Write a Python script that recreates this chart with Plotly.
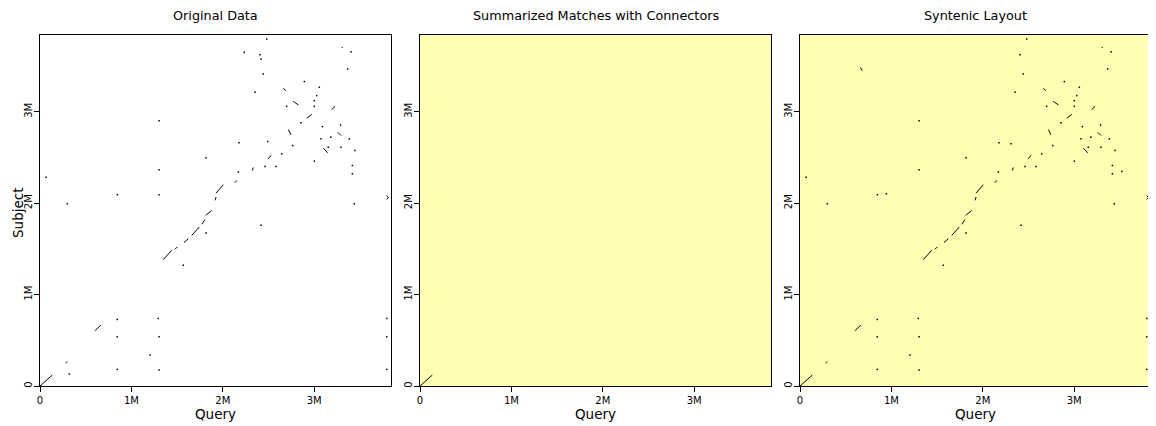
import plotly.graph_objects as go

M = 1e6

# ---- data (Mbp) ----
# alignment segments shared by "Original Data" and "Syntenic Layout"
seg_q1 = [3.301, 2.662, 2.771, 3.191, 2.918, 3.282, 2.717, 3.257, 3.100, 2.498, 2.323, 2.133,
          1.926, 1.915, 3.793, 3.811, 1.349, 1.477, 1.575, 1.660, 1.769, 1.813, 0.602, 0.284, 0.000]
seg_s1 = [3.710, 3.257, 3.115, 3.024, 2.929, 2.868, 2.806, 2.776, 2.601, 2.486, 2.358, 2.224,
          2.110, 2.031, 2.085, 2.063, 1.383, 1.496, 1.569, 1.648, 1.769, 1.867, 0.604, 0.248, 0.000]
seg_q2 = [3.312, 2.691, 2.826, 3.228, 2.973, 3.293, 2.746, 3.293, 3.148, 2.527, 2.334, 2.152,
          2.005, 1.926, 3.811, 3.793, 1.441, 1.502, 1.623, 1.743, 1.805, 1.879, 0.664, 0.299, 0.135]
seg_s2 = [3.697, 3.231, 3.075, 3.060, 2.973, 2.842, 2.748, 2.740, 2.551, 2.522, 2.391, 2.249,
          2.202, 2.067, 2.063, 2.041, 1.485, 1.521, 1.612, 1.739, 1.820, 1.921, 0.666, 0.265, 0.120]

# summarized matches panel
sum_q1 = [0.000]
sum_s1 = [0.000]
sum_q2 = [0.135]
sum_s2 = [0.120]

# extra segment in syntenic layout
syn_q1 = [0.660]
syn_s1 = [3.486]
syn_q2 = [0.682]
syn_s2 = [3.450]

# short matches (single dots) in original data
orig_dot_q = [1.302, 1.816, 1.302, 0.066, 0.846, 1.302, 0.299, 2.480, 2.235, 2.407, 2.418, 3.403,
              3.366, 2.443, 2.352, 2.892, 3.056, 3.027, 3.001, 2.699, 3.001, 2.856, 3.089, 3.181,
              3.074, 3.384, 2.177, 2.491, 2.765, 3.154, 3.293, 3.446, 2.644, 3.001, 2.462, 2.582,
              2.170, 3.417, 3.417, 3.438, 1.816, 1.568, 2.418, 0.846, 1.294, 0.846, 1.302, 1.204,
              0.321, 0.846, 1.302, 3.793, 3.793, 3.793]
orig_dot_s = [2.901, 2.497, 2.366, 2.285, 2.093, 2.093, 1.995, 3.796, 3.650, 3.624, 3.577, 3.657,
              3.468, 3.414, 3.213, 3.330, 3.268, 3.177, 3.122, 3.060, 3.060, 2.879, 2.838, 2.722,
              2.704, 2.704, 2.660, 2.675, 2.631, 2.612, 2.612, 2.576, 2.540, 2.460, 2.402, 2.402,
              2.340, 2.322, 2.413, 1.995, 1.674, 1.321, 1.758, 0.728, 0.739, 0.538, 0.538, 0.338,
              0.131, 0.182, 0.175, 0.739, 0.538, 0.182]

# short matches (single dots) in syntenic layout
syn_dot_q = [1.302, 1.816, 1.302, 0.066, 0.846, 0.945, 0.299, 2.480, 2.407, 3.403,
             3.366, 2.443, 2.352, 2.892, 3.056, 3.027, 3.001, 2.699, 3.001, 2.856, 3.089, 3.181,
             3.074, 3.384, 2.177, 2.309, 2.765, 3.154, 3.293, 3.446, 2.644, 3.001, 2.462, 2.582,
             2.170, 3.417, 3.417, 3.520, 3.438, 1.816, 1.568, 2.418, 0.846, 1.294, 0.846, 1.302,
             1.204, 0.846, 1.302, 3.793, 3.793, 3.793]
syn_dot_s = [2.901, 2.497, 2.366, 2.285, 2.093, 2.103, 1.995, 3.796, 3.624, 3.657,
             3.468, 3.414, 3.213, 3.330, 3.268, 3.177, 3.122, 3.060, 3.060, 2.879, 2.838, 2.722,
             2.704, 2.704, 2.660, 2.650, 2.631, 2.612, 2.612, 2.576, 2.540, 2.460, 2.402, 2.402,
             2.340, 2.322, 2.413, 2.347, 1.995, 1.674, 1.321, 1.758, 0.728, 0.739, 0.538, 0.538,
             0.338, 0.182, 0.175, 0.739, 0.538, 0.182]

tick_vals = [0, 1, 2, 3]
tick_text = ["0", "1M", "2M", "3M"]
axis_max = 3.84
panel_titles = ["Original Data", "Summarized Matches with Connectors", "Syntenic Layout"]
x_title = "Query"
y_title = "Subject"
yellow = "#FFFFB4"


def seg_xy(q1, s1, q2, s2):
    xs, ys = [], []
    for a, b, c, d in zip(q1, s1, q2, s2):
        xs += [a * M, c * M, None]
        ys += [b * M, d * M, None]
    return xs, ys


fig = go.Figure()

panels = [
    (seg_q1, seg_s1, seg_q2, seg_s2, orig_dot_q, orig_dot_s),
    (sum_q1, sum_s1, sum_q2, sum_s2, [], []),
    (seg_q1 + syn_q1, seg_s1 + syn_s1, seg_q2 + syn_q2, seg_s2 + syn_s2, syn_dot_q, syn_dot_s),
]

for i, (q1, s1, q2, s2, dq, ds) in enumerate(panels):
    xa = "x" if i == 0 else f"x{i+1}"
    ya = "y" if i == 0 else f"y{i+1}"
    xs, ys = seg_xy(q1, s1, q2, s2)
    fig.add_trace(go.Scatter(x=xs, y=ys, mode="lines", line=dict(color="black", width=1),
                             xaxis=xa, yaxis=ya, showlegend=False, hoverinfo="skip"))
    if dq:
        fig.add_trace(go.Scatter(x=[v * M for v in dq], y=[v * M for v in ds], mode="markers",
                                 marker=dict(color="black", size=1.5, symbol="square", line=dict(width=0)),
                                 xaxis=xa, yaxis=ya, showlegend=False, hoverinfo="skip"))

# the page body has an 8px margin, so the figure is 8px smaller and shifted
W, H = 1148, 418
ml, mt, mb = 32, 27, 40
lefts = [32, 412, 792]
size = 351
mr = W - (lefts[-1] + size)
pw = W - ml - mr
ph = H - mt - mb

axis_common = dict(range=[0, axis_max * M], tickvals=[v * M for v in tick_vals], ticktext=tick_text,
                   showline=True, mirror=True, linecolor="black", linewidth=1,
                   ticks="outside", ticklen=5, tickcolor="black", tickwidth=1,
                   showgrid=False, zeroline=False, fixedrange=True, automargin=False,
                   tickfont=dict(family="DejaVu Sans", size=10, color="black"))

layout = dict(width=W, height=H, margin=dict(l=ml, r=mr, t=mt, b=mb, autoexpand=False),
              paper_bgcolor="white", plot_bgcolor="white",
              font=dict(family="DejaVu Sans", color="black"), showlegend=False)

annotations = []
shapes = []
for i, left in enumerate(lefts):
    d0 = (left - ml) / pw
    d1 = min((left + size - ml) / pw, 1)
    xk = "xaxis" if i == 0 else f"xaxis{i+1}"
    yk = "yaxis" if i == 0 else f"yaxis{i+1}"
    yname = "y" if i == 0 else f"y{i+1}"
    xname = "x" if i == 0 else f"x{i+1}"
    layout[xk] = dict(axis_common, domain=[d0, d1], anchor=yname,
                      title=dict(text=x_title, font=dict(size=13.5, family="DejaVu Sans"), standoff=2))
    layout[yk] = dict(axis_common, domain=[0, 1], anchor=xname, tickangle=-90, ticklabelstandoff=-2)
    annotations.append(dict(text=panel_titles[i], xref="paper", yref="paper",
                            x=(d0 + d1) / 2, y=1 + (mt - 8) / ph, xanchor="center", yanchor="middle",
                            showarrow=False, font=dict(size=12.8, family="DejaVu Sans", color="black")))
    if i > 0:
        shapes.append(dict(type="rect", xref=f"{xname} domain", yref=f"{yname} domain",
                           x0=0, x1=1, y0=0, y1=1, fillcolor=yellow, line=dict(width=0), layer="below"))

# y axis title of the first panel
annotations.append(dict(text=y_title, xref="paper", yref="paper", textangle=-90,
                        x=(0 - ml) / pw, y=(H - mb - 205) / ph, xanchor="left", yanchor="middle",
                        showarrow=False, font=dict(size=13.5, family="DejaVu Sans", color="black")))

layout["annotations"] = annotations
layout["shapes"] = shapes
fig.update_layout(**layout)

fig.write_html("out.html")
